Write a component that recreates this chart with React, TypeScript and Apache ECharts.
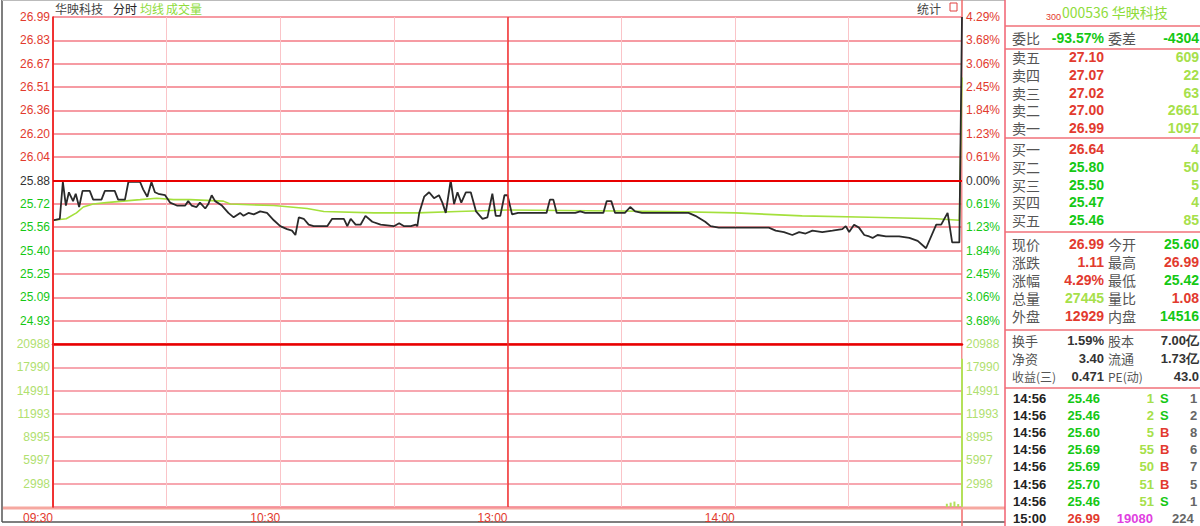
import React, { useEffect, useRef } from 'react';
import * as echarts from 'echarts';

// ---------- data ----------
const stockName = '华映科技';
const stockCode = '000536';
const preClose = 25.88;
const priceMin = 24.77;
const priceMax = 26.99;
const volMax = 20988;
const sessionBreaks = [0, 120];

const priceTickLabels = ['24.77', '24.93', '25.09', '25.25', '25.40', '25.56', '25.72', '25.88', '26.04', '26.20', '26.36', '26.51', '26.67', '26.83', '26.99'];
const pctTickLabels = ['-4.29%', '-3.68%', '-3.06%', '-2.45%', '-1.84%', '-1.23%', '-0.61%', '0.00%', '0.61%', '1.23%', '1.84%', '2.45%', '3.06%', '3.68%', '4.29%'];
const volTickLabels = ['0', '2998', '5997', '8995', '11993', '14991', '17990', '20988'];
const timeTickLabels = ['09:30', '10:00', '10:30', '11:00', '13:00', '13:30', '14:00', '14:30', '15:00'];
const shownTimeLabels = ['09:30', '10:30', '13:00', '14:00'];

const priceMinutes = [0, 1.8, 2.6, 3.4, 4.2, 5.3, 6, 6.9, 7.8, 9.7, 10.6, 12.8, 13.7, 16.3, 17.2, 19, 19.9, 23, 23.8, 24.9, 26, 26.9, 27.8, 29.6, 30.9, 32.7, 34.9, 35.7, 36.6, 37.9, 38.8, 40.2, 41, 41.9, 42.8, 44.6, 46.3, 47.7, 49.4, 50.3, 51.6, 53, 54.7, 56.5, 58.3, 60, 61.8, 63.1, 64, 64.9, 66.2, 67.5, 68.8, 72.4, 73.7, 76.8, 77.7, 78.6, 79.9, 81.2, 82.5, 84.3, 86.5, 90, 91.4, 92.7, 94.5, 95.8, 96.2, 96.7, 98, 99.3, 100.6, 101.9, 102.8, 103.7, 105, 105.9, 106.8, 107.8, 109, 110.3, 111.7, 113.4, 114.7, 116, 116.9, 118.1, 119.2, 120, 121.2, 122.8, 130.3, 131.2, 132.1, 133, 137.9, 139.2, 140.5, 145.3, 146.2, 147.4, 148.4, 151, 152.4, 153.7, 155.5, 157.7, 159, 167.8, 169.6, 170.9, 172.2, 173.6, 175.8, 189, 190.8, 193, 195.2, 197, 198.7, 200.5, 203.1, 205.8, 208.4, 209.3, 210.2, 211.5, 212.8, 214.2, 215.5, 216.4, 217.7, 219.9, 223.4, 226.1, 228.3, 230.5, 233.2, 234.5, 236.2, 237.4, 239.3, 240];
const prices = [25.61, 25.62, 25.87, 25.71, 25.80, 25.74, 25.79, 25.70, 25.81, 25.81, 25.75, 25.75, 25.81, 25.81, 25.75, 25.75, 25.87, 25.87, 25.82, 25.77, 25.87, 25.80, 25.79, 25.78, 25.73, 25.71, 25.71, 25.74, 25.71, 25.70, 25.73, 25.69, 25.72, 25.78, 25.74, 25.71, 25.66, 25.63, 25.66, 25.64, 25.66, 25.65, 25.67, 25.66, 25.61, 25.57, 25.55, 25.54, 25.51, 25.63, 25.62, 25.58, 25.57, 25.57, 25.62, 25.62, 25.57, 25.62, 25.58, 25.58, 25.64, 25.60, 25.58, 25.57, 25.59, 25.57, 25.57, 25.58, 25.57, 25.66, 25.77, 25.80, 25.76, 25.78, 25.73, 25.66, 25.88, 25.72, 25.80, 25.73, 25.80, 25.80, 25.67, 25.62, 25.63, 25.79, 25.64, 25.64, 25.78, 25.78, 25.65, 25.66, 25.66, 25.75, 25.75, 25.66, 25.66, 25.67, 25.66, 25.66, 25.74, 25.74, 25.66, 25.66, 25.70, 25.67, 25.66, 25.66, 25.66, 25.66, 25.64, 25.62, 25.60, 25.57, 25.56, 25.56, 25.54, 25.53, 25.51, 25.53, 25.52, 25.54, 25.53, 25.54, 25.55, 25.57, 25.53, 25.58, 25.56, 25.51, 25.50, 25.49, 25.51, 25.50, 25.50, 25.49, 25.47, 25.42, 25.58, 25.58, 25.66, 25.46, 25.46, 26.99];

const avgMinutes = [0, 3.5, 6.2, 8, 10.6, 14.1, 18.5, 23, 27.4, 31.8, 36.2, 45, 46.8, 58.3, 67.1, 71.5, 84.7, 96.2, 106.8, 120, 162.5, 180.2, 197.8, 215.5, 233.2, 239.3, 240];
const avgPrices = [25.61, 25.62, 25.66, 25.70, 25.72, 25.73, 25.74, 25.75, 25.76, 25.75, 25.75, 25.74, 25.72, 25.71, 25.69, 25.67, 25.66, 25.66, 25.67, 25.68, 25.67, 25.66, 25.64, 25.63, 25.62, 25.61, 26.58];

const volMinutes = [236, 237, 238, 239, 240];
const volumes = [420, 560, 700, 380, 19080];

// right panel
const ratioLabels = ['委比', '委差'];
const ratioValues = ['-93.57%', '-4304'];
const askLabels = ['卖五', '卖四', '卖三', '卖二', '卖一'];
const askPrices = ['27.10', '27.07', '27.02', '27.00', '26.99'];
const askVols = ['609', '22', '63', '2661', '1097'];
const bidLabels = ['买一', '买二', '买三', '买四', '买五'];
const bidPrices = ['26.64', '25.80', '25.50', '25.47', '25.46'];
const bidVols = ['4', '50', '5', '4', '85'];
const quoteLabels1 = ['现价', '涨跌', '涨幅', '总量', '外盘'];
const quoteValues1 = ['26.99', '1.11', '4.29%', '27445', '12929'];
const quoteLabels2 = ['今开', '最高', '最低', '量比', '内盘'];
const quoteValues2 = ['25.60', '26.99', '25.42', '1.08', '14516'];
const infoLabels1 = ['换手', '净资', '收益(三)'];
const infoValues1 = ['1.59%', '3.40', '0.471'];
const infoLabels2 = ['股本', '流通', 'PE(动)'];
const infoValues2 = ['7.00亿', '1.73亿', '43.0'];
const tradeTimes = ['14:56', '14:56', '14:56', '14:56', '14:56', '14:56', '14:56', '15:00'];
const tradePrices = ['25.46', '25.46', '25.60', '25.69', '25.69', '25.70', '25.46', '26.99'];
const tradeVols = ['1', '2', '5', '55', '50', '51', '51', '19080'];
const tradeSides = ['S', 'S', 'B', 'B', 'B', 'B', 'S', ''];
const tradeExtra = ['1', '2', '8', '6', '7', '5', '1', '224'];

// ---------- styles ----------
const RED = '#e23a2e';
const GREEN = '#14c814';
const YG = '#a6e04a';
const DARK = '#333333';
const LABEL = '#555555';
const MAGENTA = '#e040e0';
const NUM = '"Liberation Sans", Arial, sans-serif';
const CJK = '"Noto Sans CJK SC", sans-serif';

const L = 53;
const T = 17;
const W = 909;
const PH = 327;
const VH = 163;

function txt(text: string, x: number, y: number, fill: string, font: string, align = 'left') {
  return {
    type: 'text',
    silent: true,
    style: { text, x, y, fill, font, align, textAlign: align, verticalAlign: 'middle', textVerticalAlign: 'middle' },
  };
}
function hline(x1: number, x2: number, y: number, stroke: string, lineWidth = 1) {
  return { type: 'line', silent: true, shape: { x1, y1: y, x2, y2: y }, style: { stroke, lineWidth } };
}
function vline(x: number, y1: number, y2: number, stroke: string, lineWidth = 1) {
  return { type: 'line', silent: true, shape: { x1: x, y1, x2: x, y2 }, style: { stroke, lineWidth } };
}

function buildPanel() {
  const els: any[] = [];
  const P0 = 1005;
  const cjk = `14px ${CJK}`;
  const num = `bold 14px ${NUM}`;
  const c1 = 1012, v1 = 1104, c2 = 1108, v2 = 1199;
  const lineColor = '#f07078';
  els.push(vline(P0, 0, 526, '#f06070', 1.5));
  [26, 49, 138, 232, 330, 388].forEach((y) => els.push(hline(P0, 1200, y, lineColor, 1.5)));
  els.push(txt('300', 1046, 17, RED, `9px ${NUM}`));
  els.push(txt(`${stockCode} ${stockName}`, 1062, 12, '#8fdc3c', `14px ${CJK}`));
  els.push(txt(ratioLabels[0], c1, 38, LABEL, cjk));
  els.push(txt(ratioValues[0], v1, 38, GREEN, num, 'right'));
  els.push(txt(ratioLabels[1], c2, 38, LABEL, cjk));
  els.push(txt(ratioValues[1], v2, 38, GREEN, num, 'right'));
  askLabels.forEach((lab, i) => {
    const y = 57 + i * 17.8;
    els.push(txt(lab, c1, y, LABEL, cjk));
    els.push(txt(askPrices[i], v1, y, RED, num, 'right'));
    els.push(txt(askVols[i], v2, y, YG, num, 'right'));
  });
  bidLabels.forEach((lab, i) => {
    const y = 149 + i * 17.8;
    const c = parseFloat(bidPrices[i]) > preClose ? RED : GREEN;
    els.push(txt(lab, c1, y, LABEL, cjk));
    els.push(txt(bidPrices[i], v1, y, c, num, 'right'));
    els.push(txt(bidVols[i], v2, y, YG, num, 'right'));
  });
  const q1c = [RED, RED, RED, YG, RED];
  const q2c = [GREEN, RED, GREEN, RED, GREEN];
  quoteLabels1.forEach((lab, i) => {
    const y = 244 + i * 18;
    els.push(txt(lab, c1, y, LABEL, cjk));
    els.push(txt(quoteValues1[i], v1, y, q1c[i], num, 'right'));
    els.push(txt(quoteLabels2[i], c2, y, LABEL, cjk));
    els.push(txt(quoteValues2[i], v2, y, q2c[i], num, 'right'));
  });
  infoLabels1.forEach((lab, i) => {
    const y = 340 + i * 18;
    const f = i === 2 ? `12px ${CJK}` : `13px ${CJK}`;
    els.push(txt(lab, c1, y, LABEL, f));
    els.push(txt(infoValues1[i], v1, y, DARK, `bold 13px ${NUM}`, 'right'));
    els.push(txt(infoLabels2[i], c2, y, LABEL, f));
    els.push(txt(infoValues2[i], v2, y, DARK, `bold 13px ${NUM}`, 'right'));
  });
  const tnum = `bold 13px ${NUM}`;
  tradeTimes.forEach((t, i) => {
    const y = 398 + i * 17.2;
    const last = i === tradeTimes.length - 1;
    els.push(txt(t, 1013, y, '#222', tnum));
    els.push(txt(tradePrices[i], 1100, y, last ? RED : GREEN, tnum, 'right'));
    els.push(txt(tradeVols[i], last ? 1153 : 1154, y, last ? MAGENTA : YG, tnum, 'right'));
    if (tradeSides[i]) els.push(txt(tradeSides[i], 1160, y, tradeSides[i] === 'B' ? RED : GREEN, tnum));
    els.push(txt(tradeExtra[i], last ? 1172 : 1190, y, '#666', tnum));
  });
  return els;
}

function buildOption(): any {
  const vColor = '#fac4c8';
  const priceLineColors = priceTickLabels.map((_, i) => (i === 0 || i === 7 ? '#e80000' : '#f37a85'));
  const volLineColors = volTickLabels.map(() => '#f58a96');
  const common = { outerBoundsMode: 'none', containLabel: false };
  const xBase = {
    type: 'value',
    min: 0,
    max: 240,
    interval: 30,
    axisTick: { show: false },
    splitLine: { show: true, lineStyle: { color: vColor, width: 1 } },
  };
  const numLabel = { fontSize: 12, fontFamily: NUM };
  const sessionMark = {
    silent: true,
    symbol: 'none',
    label: { show: false },
    lineStyle: { color: '#f03030', width: 1.5, type: 'solid' },
    data: sessionBreaks.map((m) => ({ xAxis: m })),
  };
  return {
    animation: false,
    backgroundColor: '#ffffff',
    grid: [
      { left: L, top: T, width: W, height: PH, ...common },
      { left: L, top: T + PH, width: W, height: VH, ...common },
    ],
    xAxis: [
      {
        ...xBase,
        gridIndex: 0,
        axisLabel: { show: false },
        axisLine: { show: true, onZero: false, lineStyle: { color: '#e80000', width: 2.5 } },
      },
      {
        ...xBase,
        gridIndex: 1,
        axisLine: { show: false, onZero: false },
        axisLabel: {
          show: true,
          ...numLabel,
          color: RED,
          align: 'right',
          margin: 5,
          formatter: (v: number) => {
            const s = timeTickLabels[Math.round(v / 30)];
            return shownTimeLabels.includes(s) ? s : '';
          },
        },
      },
    ],
    yAxis: [
      {
        gridIndex: 0,
        type: 'category',
        data: priceTickLabels,
        boundaryGap: false,
        position: 'left',
        axisLine: { show: true, onZero: false, lineStyle: { color: '#e80000', width: 1.5 } },
        axisTick: { show: false },
        axisLabel: {
          interval: 0,
          margin: 3,
          ...numLabel,
          formatter: (v: string, i: number) => (i === 0 ? '' : v),
          color: (v: string, i: number) => (i > 7 ? RED : i === 7 ? DARK : GREEN),
        },
        splitLine: { show: true, interval: 0, lineStyle: { color: priceLineColors, width: 1.5 } },
      },
      { gridIndex: 0, type: 'value', min: priceMin, max: priceMax, show: false },
      {
        gridIndex: 0,
        type: 'category',
        data: pctTickLabels,
        boundaryGap: false,
        position: 'right',
        axisLine: { show: false },
        axisTick: { show: false },
        axisLabel: {
          interval: 0,
          margin: 4,
          ...numLabel,
          align: 'left',
          formatter: (v: string, i: number) => (i === 0 ? '' : v.replace('-', '')),
          color: (v: string, i: number) => (i > 7 ? RED : i === 7 ? DARK : GREEN),
        },
        splitLine: { show: false },
      },
      {
        gridIndex: 1,
        type: 'category',
        data: volTickLabels,
        boundaryGap: false,
        position: 'left',
        axisLine: { show: true, onZero: false, lineStyle: { color: '#e80000', width: 1.5 } },
        axisTick: { show: false },
        axisLabel: {
          interval: 0,
          margin: 3,
          ...numLabel,
          color: '#b0e070',
          formatter: (v: string, i: number) => (i === 0 ? '' : v),
        },
        splitLine: { show: true, interval: 0, lineStyle: { color: volLineColors, width: 1.5 } },
      },
      {
        gridIndex: 1,
        type: 'category',
        data: volTickLabels,
        boundaryGap: false,
        position: 'right',
        axisLine: { show: false },
        axisTick: { show: false },
        axisLabel: {
          interval: 0,
          margin: 4,
          ...numLabel,
          align: 'left',
          color: '#b0e070',
          formatter: (v: string, i: number) => (i === 0 ? '' : v),
        },
        splitLine: { show: false },
      },
      { gridIndex: 1, type: 'value', min: 0, max: volMax, show: false },
    ],
    series: [
      {
        type: 'line',
        name: 'avg',
        xAxisIndex: 0,
        yAxisIndex: 1,
        data: avgMinutes.map((m, i) => [m, avgPrices[i]]),
        showSymbol: false,
        symbol: 'none',
        z: 3,
        lineStyle: { color: '#a4e03c', width: 1.6 },
        markLine: sessionMark,
      },
      {
        type: 'line',
        name: 'price',
        xAxisIndex: 0,
        yAxisIndex: 1,
        data: priceMinutes.map((m, i) => [m, prices[i]]),
        showSymbol: false,
        symbol: 'none',
        z: 4,
        lineStyle: { color: '#2a2a2a', width: 1.8 },
        markLine: {
          silent: true,
          symbol: 'none',
          label: { show: false },
          lineStyle: { color: '#e80000', width: 2, type: 'solid' },
          data: [{ yAxis: preClose }],
        },
      },
      {
        type: 'bar',
        name: 'vol',
        xAxisIndex: 1,
        yAxisIndex: 5,
        data: volMinutes.map((m, i) => [m, volumes[i]]),
        barWidth: 2,
        itemStyle: { color: '#b4e05a' },
        z: 3,
        markLine: sessionMark,
      },
    ],
    graphic: [
      {
        type: 'group',
        silent: true,
        children: [
          vline(2, 0, 522, '#555', 1.5),
          hline(2, 1005, 522, '#555', 1.5),
          hline(2, 1005, 0.5, '#bbb', 1),
          vline(962, 0, 526, '#f06a6a', 1.5),
          hline(3, 1005, 508, '#f6a8a0', 3),
          txt(stockName, 55, 8, '#444', `12px ${CJK}`),
          txt('分时', 113, 8, '#222', `12px ${CJK}`),
          txt('均线', 140, 8, '#8fdc3c', `12px ${CJK}`),
          txt('成交量', 166, 8, '#8fdc3c', `12px ${CJK}`),
          txt('统计', 917, 8, '#444', `12px ${CJK}`),
          { type: 'rect', silent: true, shape: { x: 950, y: 3, width: 7, height: 8 }, style: { fill: 'none', stroke: '#e04040', lineWidth: 1 } },
          ...buildPanel(),
        ],
      },
    ],
  };
}

export default function App() {
  const ref = useRef<HTMLDivElement>(null);
  useEffect(() => {
    if (!ref.current) return;
    const chart = echarts.init(ref.current, null, { renderer: 'svg', width: 1200, height: 526 });
    chart.setOption(buildOption());
    return () => chart.dispose();
  }, []);
  return (
    <div
      ref={ref}
      style={{ position: 'fixed', left: 0, top: 0, width: 1200, height: 526, background: '#fff' }}
    />
  );
}
